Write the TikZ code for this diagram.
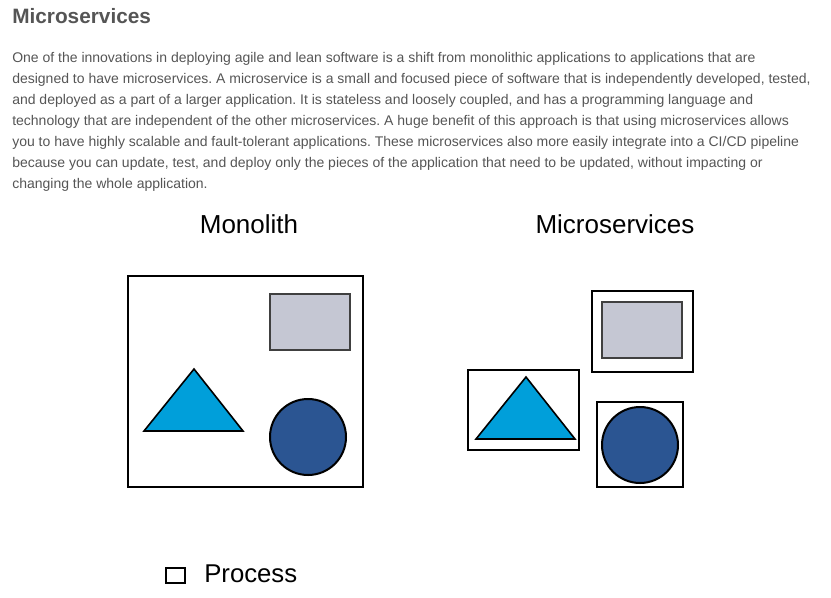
\documentclass[tikz,border=0pt]{standalone}
\usepackage{fontspec}
\setmainfont{Liberation Sans}
\frenchspacing
\definecolor{bodygray}{HTML}{555555}
\definecolor{boxgray}{HTML}{C5C7D3}
\definecolor{edgegray}{HTML}{404040}
\definecolor{tricyan}{HTML}{009FDA}
\definecolor{circblue}{HTML}{2B5592}

\begin{document}
\begin{tikzpicture}[x=0.75pt,y=-0.75pt,
  frame/.style={draw,line width=1.5pt},
  grayrect/.style={draw=edgegray,fill=boxgray,line width=1.5pt},
  tri/.style={draw,fill=tricyan,line width=1.2pt,line join=miter},
  disc/.style={draw,fill=circblue,line width=1.5pt},
  title/.style={anchor=base,inner sep=0,font=\fontsize{19.5}{23}\selectfont}]
  \useasboundingbox (0,0) rectangle (831,597);

  \node[anchor=base west,inner sep=0,text=bodygray,font=\bfseries\fontsize{15.6}{18}\selectfont] (head) at (12,23) {Microservices};
  % base of a multi-line node sits on its last line
  \node[anchor=base west,inner sep=0,text=bodygray,align=left,font=\fontsize{10.5}{15.7}\selectfont] (body) at (12,188.4) {
    One of the innovations in deploying agile and lean software is a shift from monolithic applications to applications that are\\
    designed to have microservices. A microservice is a small and focused piece of software that is independently developed, tested,\\
    and deployed as a part of a larger application. It is stateless and loosely coupled, and has a programming language and\\
    technology that are independent of the other microservices. A huge benefit of this approach is that using microservices allows\\
    you to have highly scalable and fault-tolerant applications. These microservices also more easily integrate into a CI/CD pipeline\\
    because you can update, test, and deploy only the pieces of the application that need to be updated, without impacting or\\
    changing the whole application.};

  \node[title] (monotitle) at (249,233) {Monolith};
  \node[title] (microtitle) at (615,233) {Microservices};

  % monolith
  \draw[frame] (128,276) rectangle (363,487);
  \draw[grayrect] (270,294) rectangle (350,350);
  \draw[tri] (194,369) -- (243,431) -- (144,431) -- cycle;
  \draw[disc] (308,437) circle [radius=38];

  % microservices
  \draw[frame] (592,291) rectangle (693,372);
  \draw[grayrect] (602,302) rectangle (682,358);
  \draw[frame] (468,370) rectangle (579,450);
  \draw[tri] (526,377) -- (575,439) -- (476,439) -- cycle;
  \draw[frame] (597,402) rectangle (683,487);
  \draw[disc] (640,445) circle [radius=38];

  % legend
  \draw[line width=1.1pt] (166,568) rectangle (185,583);
  \node[anchor=base west,inner sep=0,font=\fontsize{19.3}{23}\selectfont] (proc) at (204,582) {Process};
\end{tikzpicture}
\end{document}
